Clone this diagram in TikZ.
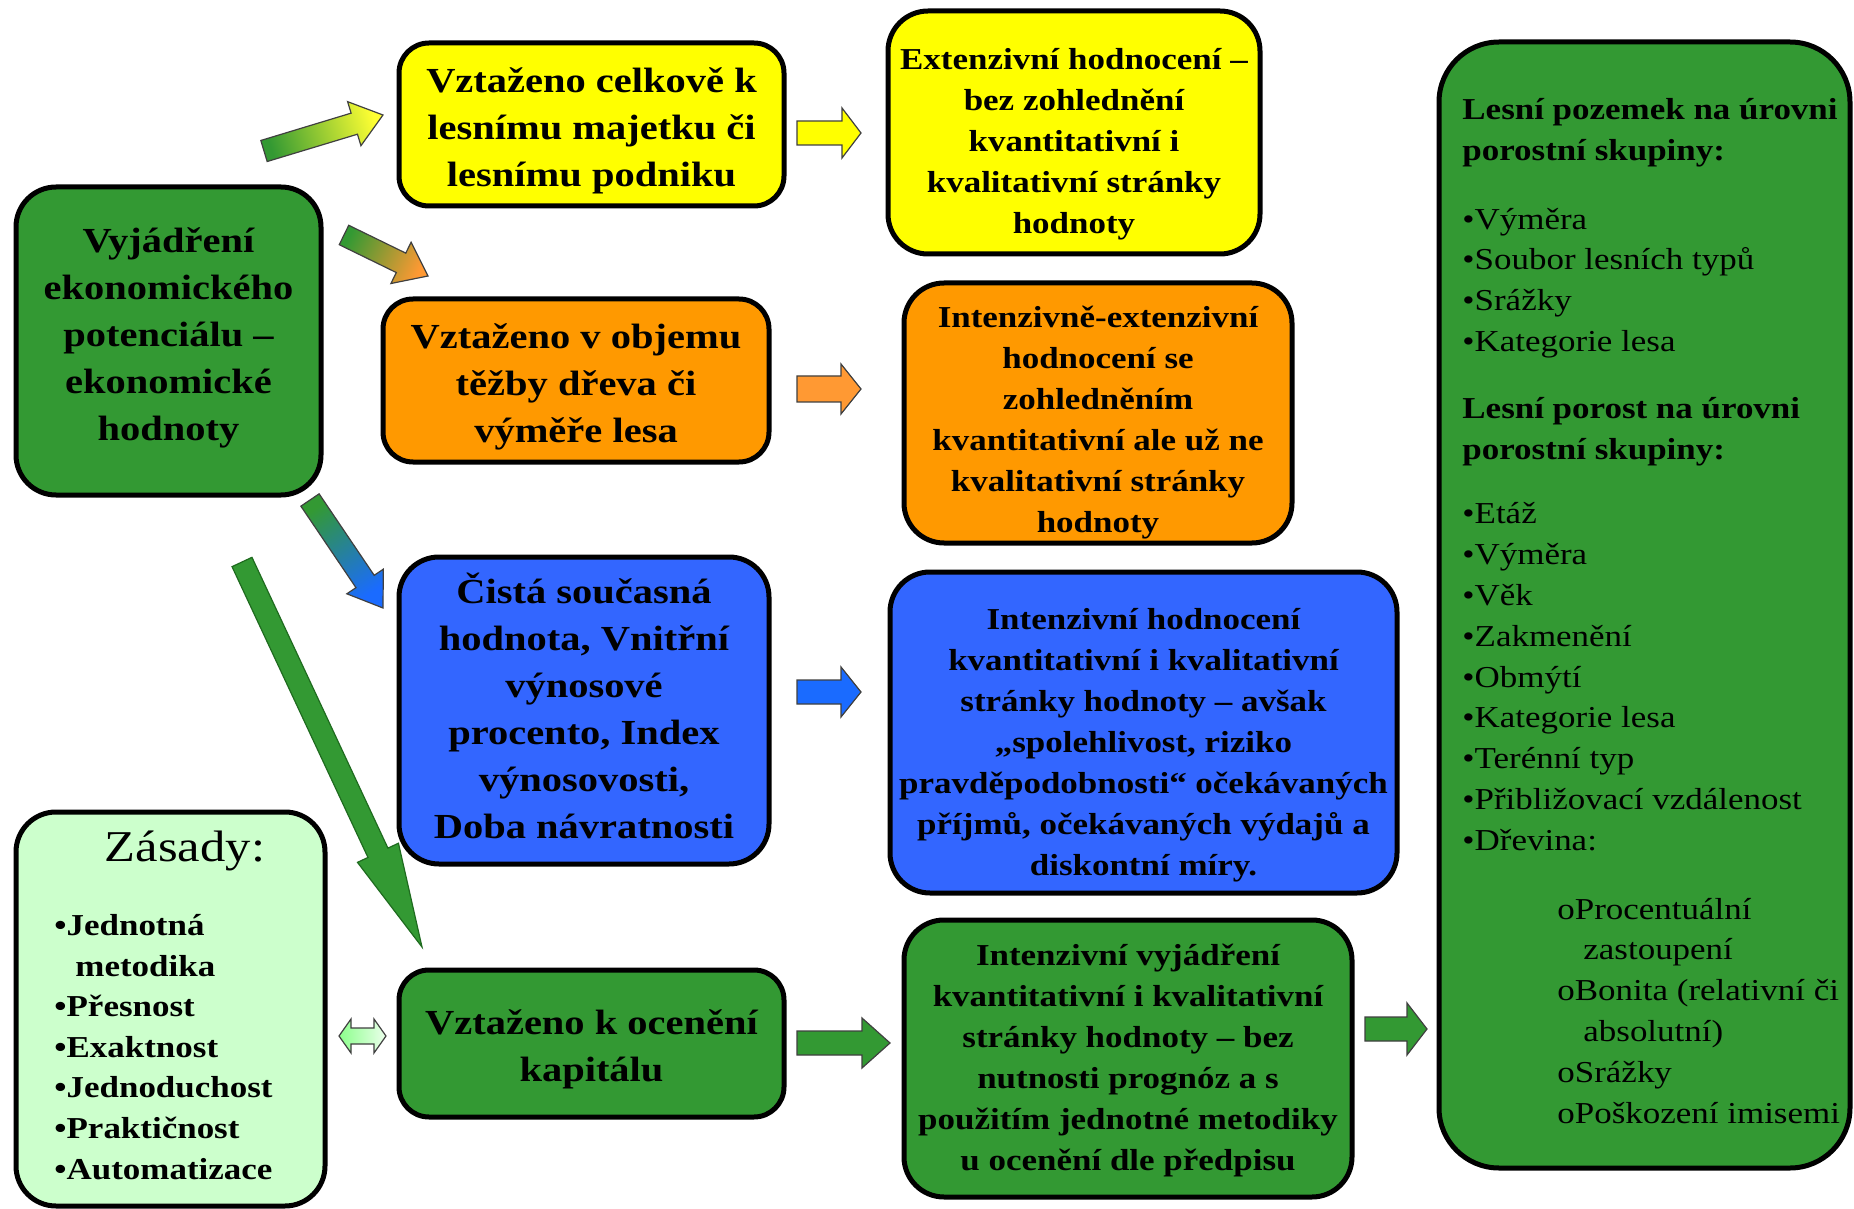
\documentclass[tikz,border=0pt]{standalone}
\usepackage{fontspec}
\setmainfont[FakeStretch=1.15]{Liberation Serif}
\usetikzlibrary{calc}
\definecolor{cgreen}{HTML}{339933}
\definecolor{cdkgreen}{HTML}{1F6B1F}
\definecolor{cyellow}{HTML}{FFFF00}
\definecolor{corange}{HTML}{FF9900}
\definecolor{corange2}{HTML}{FF9933}
\definecolor{cblue}{HTML}{3366FF}
\definecolor{cblue2}{HTML}{1A6BFF}
\definecolor{clight}{HTML}{CCFFCC}
\definecolor{cyel2}{HTML}{FFFF33}
\newcommand{\blockarrow}[6]{%
  \coordinate (ba-n) at ($(#2)!#5!(#1)$);
  \path[#6] ($(#1)!#3!90:(#2)$) -- ($(ba-n)!#3!90:(#2)$) -- ($(ba-n)!#4!90:(#2)$) -- (#2)
    -- ($(ba-n)!#4!-90:(#2)$) -- ($(ba-n)!#3!-90:(#2)$) -- ($(#1)!#3!-90:(#2)$) -- cycle;}
\begin{document}
\begin{tikzpicture}[x=0.5pt,y=-0.5pt,
  box/.style={draw=black, line width=2.5pt, rounded corners=15pt, inner sep=0pt},
  bigtext/.style={inner sep=0pt, align=center, text=black, font=\fontsize{17.6}{23.5}\selectfont\bfseries},
  smalltext/.style={inner sep=0pt, align=center, text=black, font=\fontsize{15.2}{20.5}\selectfont\bfseries},
  arrowline/.style={draw=black!75, line width=0.6pt},
]
\useasboundingbox (0,0) rectangle (1854,1209);
\fill[white] (0,0) rectangle (1854,1209);

% boxes
\node[box, fill=cgreen, rounded corners=20pt, minimum width=152.5pt, minimum height=154pt] (main) at (168.5,341) {};
\node[box, fill=cyellow, minimum width=192.5pt, minimum height=81.5pt] (yel1) at (591.5,124.5) {};
\node[box, fill=cyellow, rounded corners=20pt, minimum width=186pt, minimum height=121.5pt] (yel2) at (1074,132.5) {};
\node[box, fill=corange, minimum width=193pt, minimum height=81.5pt] (or1) at (576,380.5) {};
\node[box, fill=corange, rounded corners=20pt, minimum width=194pt, minimum height=130pt] (or2) at (1098,413) {};
\node[box, fill=cblue, rounded corners=20pt, minimum width=185pt, minimum height=153.5pt] (bl1) at (584,710.5) {};
\node[box, fill=cblue, rounded corners=20pt, minimum width=253.5pt, minimum height=160.5pt] (bl2) at (1143.5,732.5) {};
\node[box, fill=clight, rounded corners=20pt, minimum width=154.5pt, minimum height=197pt] (zas) at (170.5,1009) {};
\node[box, fill=cgreen, minimum width=192.5pt, minimum height=73.5pt] (gr9) at (591.5,1043.5) {};
\node[box, fill=cgreen, rounded corners=20pt, minimum width=224pt, minimum height=138.5pt] (gr10) at (1128,1058.5) {};
\node[box, fill=cgreen, rounded corners=30pt, minimum width=205.5pt, minimum height=563pt] (right) at (1644.5,605) {};

% box texts
\node[bigtext] (maint) at ($(main)+(0,-3)$) {Vyjádření\\ekonomického\\potenciálu –\\ekonomické\\hodnoty};
\node[bigtext] (yel1t) at ($(yel1)+(0,6)$) {Vztaženo celkově k\\lesnímu majetku či\\lesnímu podniku};
\node[smalltext] (yel2t) at ($(yel2)+(0,12)$) {Extenzivní hodnocení –\\bez zohlednění\\kvantitativní i\\kvalitativní stránky\\hodnoty};
\node[bigtext] (or1t) at ($(or1)+(0,6)$) {Vztaženo v objemu\\těžby dřeva či\\výměře lesa};
\node[smalltext] (or2t) at ($(or2)+(0,10)$) {Intenzivně-extenzivní\\hodnocení se\\zohledněním\\kvantitativní ale už ne\\kvalitativní stránky\\hodnoty};
\node[bigtext] (bl1t) at ($(bl1)+(0,-5)$) {Čistá současná\\hodnota, Vnitřní\\výnosové\\procento, Index\\výnosovosti,\\Doba návratnosti};
\node[smalltext] (bl2t) at ($(bl2)+(0,13)$) {Intenzivní hodnocení\\kvantitativní i kvalitativní\\stránky hodnoty – avšak\\„spolehlivost, riziko\\pravděpodobnosti“ očekávaných\\příjmů, očekávaných výdajů a\\diskontní míry.};
\node[bigtext] (gr9t) at ($(gr9)+(0,6)$) {Vztaženo k ocenění\\kapitálu};
\node[smalltext] (gr10t) at ($(gr10)+(0,2)$) {Intenzivní vyjádření\\kvantitativní i kvalitativní\\stránky hodnoty – bez\\nutnosti prognóz a s\\použitím jednotné metodiky\\u ocenění dle předpisu};

% Zasady text
\node[font=\fontsize{22}{26}\selectfont, inner sep=0pt] (zastitle) at (185,851) {Zásady:};
\node[anchor=north west, inner sep=0pt, align=left, font=\fontsize{15.2}{20.3}\selectfont\bfseries] (zasitems) at (54,914)
  {•Jednotná\\\hspace*{10.5pt}metodika\\•Přesnost\\•Exaktnost\\•Jednoduchost\\•Praktičnost\\•Automatizace};

% right box text
\node[anchor=north west, inner sep=0pt, align=left, font=\fontsize{15.2}{20.4}\selectfont] (righttext) at (1462,98)
  {\textbf{Lesní pozemek na úrovni}\\\textbf{porostní skupiny:}\\[14pt]%
   •Výměra\\•Soubor lesních typů\\•Srážky\\•Kategorie lesa\\[13pt]%
   \textbf{Lesní porost na úrovni}\\\textbf{porostní skupiny:}\\[12pt]%
   •Etáž\\•Výměra\\•Věk\\•Zakmenění\\•Obmýtí\\•Kategorie lesa\\•Terénní typ\\•Přibližovací vzdálenost\\•Dřevina:\\[14pt]%
   \hspace*{47.5pt}oProcentuální\\\hspace*{60.5pt}zastoupení\\\hspace*{47.5pt}oBonita (relativní či\\\hspace*{60.5pt}absolutní)\\\hspace*{47.5pt}oSrážky\\\hspace*{47.5pt}oPoškození imisemi};

% arrow end points
\coordinate (a1s) at (264,151);  \coordinate (a1e) at (383,115);
\coordinate (a2s) at (344,235);  \coordinate (a2e) at (428,276);
\coordinate (a3s) at (310,500);  \coordinate (a3e) at (383,608);
\coordinate (a4s) at (242,562);  \coordinate (a4e) at (422,947);
\coordinate (s1s) at (797,133);  \coordinate (s1e) at (861,133);
\coordinate (s2s) at (797,389);  \coordinate (s2e) at (861,389);
\coordinate (s3s) at (797,692);  \coordinate (s3e) at (861,692);
\coordinate (s4s) at (797,1043); \coordinate (s4e) at (890,1043);
\coordinate (s5s) at (1365,1029); \coordinate (s5e) at (1427,1029);
\coordinate (dal) at (339,1036); \coordinate (dar) at (386,1036);

% gradient block arrows
\blockarrow{a1s}{a1e}{5.5pt}{11.5pt}{15pt}{arrowline, left color=cgreen, right color=cyel2, shading angle=107}
\blockarrow{a2s}{a2e}{5.4pt}{11.5pt}{15pt}{arrowline, left color=cgreen, right color=corange2, shading angle=64}
\blockarrow{a3s}{a3e}{5.5pt}{11pt}{16pt}{arrowline, left color=cgreen, right color=cblue2, shading angle=34}
\blockarrow{a4s}{a4e}{5.5pt}{11.3pt}{52pt}{draw=cdkgreen, line width=0.6pt, fill=cgreen}

% small arrows
\blockarrow{s1s}{s1e}{6pt}{12.5pt}{9.5pt}{arrowline, fill=cyellow}
\blockarrow{s2s}{s2e}{6.5pt}{12.5pt}{10pt}{arrowline, fill=corange2}
\blockarrow{s3s}{s3e}{6pt}{12.5pt}{10pt}{arrowline, fill=cblue2}
\blockarrow{s4s}{s4e}{6pt}{12.5pt}{14pt}{arrowline, fill=cgreen}
\blockarrow{s5s}{s5e}{6pt}{13pt}{10pt}{arrowline, fill=cgreen}

% double arrow
\path[arrowline, left color=green!45!white, right color=green!8!white]
  (dal) -- ++(12,-17) -- ++(0,9) -- ++(23,0) -- ++(0,-9) -- (dar) -- ++(-12,17) -- ++(0,-9) -- ++(-23,0) -- ++(0,9) -- cycle;
\end{tikzpicture}
\end{document}
